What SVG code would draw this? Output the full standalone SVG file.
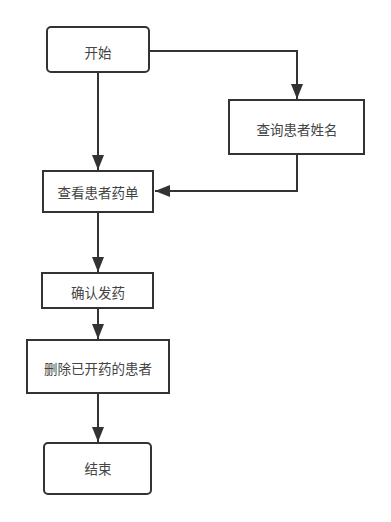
<svg xmlns="http://www.w3.org/2000/svg" width="391" height="522" viewBox="0 0 391 522">
<style>
.box{fill:#fff;stroke:#333;stroke-width:2}
.t{font-family:"Noto Sans CJK SC","Liberation Sans",sans-serif;font-size:13.5px;fill:#444;text-anchor:middle;dominant-baseline:central}
.c{fill:none;stroke:#333;stroke-width:2}
</style>
<defs>
<marker id="a" markerWidth="15" markerHeight="12" refX="15" refY="6" orient="auto" markerUnits="userSpaceOnUse" viewBox="0 0 15 12">
<path d="M0,0 L15,6 L0,12 Z" fill="#333"/>
</marker>
</defs>
<rect width="391" height="522" fill="#fff"/>
<g id="connectors">
<path class="c" d="M98,72 V170" marker-end="url(#a)"/>
<path class="c" d="M149,51 H297 V99" marker-end="url(#a)"/>
<path class="c" d="M297,154 V191 H155" marker-end="url(#a)"/>
<path class="c" d="M98,212 V272" marker-end="url(#a)"/>
<path class="c" d="M98,308 V339" marker-end="url(#a)"/>
<path class="c" d="M98,393 V442" marker-end="url(#a)"/>
</g>
<g id="start"><rect class="box" x="47" y="27" width="102" height="45" rx="4"/><text class="t" x="98" y="52">开始</text></g>
<g id="query"><rect class="box" x="229" y="100" width="135" height="54"/><text class="t" x="297" y="129">查询患者姓名</text></g>
<g id="view"><rect class="box" x="43" y="171" width="110" height="41"/><text class="t" x="98" y="192">查看患者药单</text></g>
<g id="confirm"><rect class="box" x="42" y="273" width="111" height="35"/><text class="t" x="98" y="292">确认发药</text></g>
<g id="delete"><rect class="box" x="27" y="340" width="142" height="53"/><text class="t" x="98" y="368">删除已开药的患者</text></g>
<g id="end"><rect class="box" x="44" y="443" width="107" height="51" rx="4"/><text class="t" x="98" y="468">结束</text></g>
</svg>
